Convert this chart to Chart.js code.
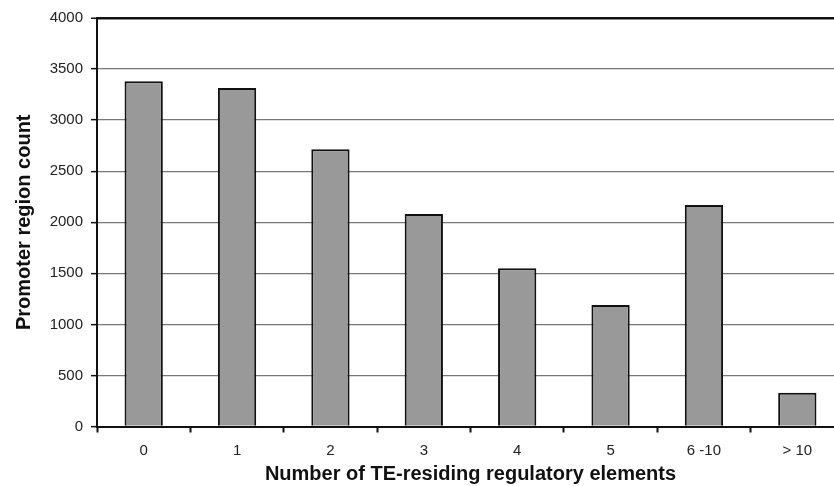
<!DOCTYPE html>
<html>
<head>
<meta charset="utf-8">
<script src="https://cdn.jsdelivr.net/npm/chart.js@4/dist/chart.umd.min.js"></script>
<style>
  html, body { margin: 0; padding: 0; background: #fff; overflow: hidden; }
  #wrap { width: 850px; height: 486px; }
</style>
</head>
<body>
<div id="wrap"><canvas id="chart" width="850" height="486"></canvas></div>
<script>
// data
const categories = ['0', '1', '2', '3', '4', '5', '6 -10', '> 10'];
const counts = [3380, 3315, 2715, 2080, 1550, 1190, 2170, 330];
const yTicks = [0, 500, 1000, 1500, 2000, 2500, 3000, 3500, 4000];

const ctx = document.getElementById('chart').getContext('2d');
const FONT = 'Liberation Sans, Arial, Helvetica, sans-serif';

new Chart(ctx, {
  type: 'bar',
  data: {
    labels: categories,
    datasets: [{
      data: counts,
      backgroundColor: '#999999',
      borderColor: '#111111',
      borderWidth: 2,
      barPercentage: 0.41,
      categoryPercentage: 1.0
    }]
  },
  options: {
    responsive: false,
    animation: false,
    layout: { padding: { top: 18, right: 6, left: 0, bottom: 0 } },
    plugins: { legend: { display: false }, tooltip: { enabled: false } },
    scales: {
      x: {
        offset: true,
        grid: {
          offset: true,
          drawOnChartArea: false,
          drawTicks: true,
          tickLength: 6,
          tickColor: '#111',
          tickWidth: 2
        },
        border: { color: '#111', width: 2 },
        ticks: {
          color: '#222',
          font: { family: FONT, size: 15 },
          padding: 9
        },
        title: {
          display: true,
          text: 'Number of TE-residing regulatory elements',
          color: '#111',
          font: { family: FONT, size: 20, weight: 'bold' },
          padding: { top: 4, bottom: 0 }
        },
        afterFit: (s) => { s.height = 59.5; }
      },
      y: {
        min: 0,
        max: 4000,
        afterBuildTicks: (s) => { s.ticks = yTicks.map(v => ({ value: v })); },
        grid: {
          color: (c) => c.tick && c.tick.value === 4000 ? '#111' : '#777',
          lineWidth: (c) => c.tick && c.tick.value === 4000 ? 2.5 : 1.3,
          tickColor: '#111',
          tickLength: 6,
          tickWidth: 1.5
        },
        border: { color: '#111', width: 2 },
        ticks: {
          color: '#222',
          font: { family: FONT, size: 15 },
          padding: 8,
          callback: (v) => String(v)
        },
        title: {
          display: true,
          text: 'Promoter region count',
          color: '#111',
          font: { family: FONT, size: 20, weight: 'bold' },
          padding: { top: 12, bottom: 4 }
        },
        afterFit: (s) => { s.width = 97; }
      }
    }
  }
});
</script>
</body>
</html>
